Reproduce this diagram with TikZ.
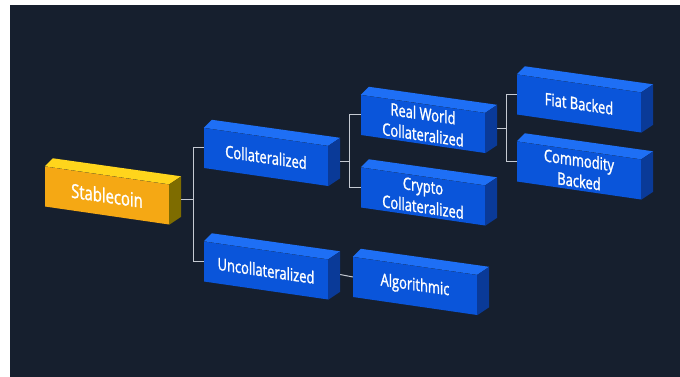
\documentclass[tikz,border=0pt]{standalone}
\usepackage{fontspec}
\setmainfont{Open Sans}
\newfontfamily\boxfont{Open Sans}[FakeStretch=0.76, FakeBold=1.3]
\usetikzlibrary{calc}

\definecolor{bgnavy}{HTML}{161F2E}
\definecolor{bluefront}{HTML}{0A55DA}
\definecolor{bluetop}{HTML}{1E6FF5}
\definecolor{blueside}{HTML}{0A3A98}
\definecolor{goldfront}{HTML}{F5A814}
\definecolor{goldtop}{HTML}{FFD51C}
\definecolor{goldside}{HTML}{7E6C00}
\definecolor{linegray}{HTML}{C5CAD3}

\begin{document}
\begin{tikzpicture}[x=1pt, y=-1pt,
  box/.style={rectangle, minimum width=124pt, minimum height=40pt, inner sep=0pt,
    fill=bluefront, text=white, align=center,
    font=\boxfont\fontsize{17}{21}\selectfont, yslant=-0.145, transform shape},
  conn/.style={draw=linegray, line width=1pt}]
  \useasboundingbox (0,0) rectangle (680,377);
  \fill[bgnavy] (10,5) rectangle (680,377);

  % front faces
  \node[box, fill=goldfront, font=\boxfont\fontsize{19.5}{22}\selectfont] (stable) at (107,195.5) {Stablecoin};
  \node[box] (coll) at (266,157) {Collateralized};
  \node[box] (uncoll) at (266,270.5) {Uncollateralized};
  \node[box] (realw) at (423,124) {Real World\\Collateralized};
  \node[box] (crypto) at (423,196.5) {Crypto\\Collateralized};
  \node[box] (algo) at (415,286) {Algorithmic};
  \node[box] (fiat) at (579,103.5) {Fiat Backed};
  \node[box] (commod) at (579,170.5) {Commodity\\Backed};

  % top and side faces
  \fill[goldtop] (stable.north west) -- ++(8,-8) -- ($(stable.north east)+(12,-8)$) -- (stable.north east) -- cycle;
  \fill[goldside] (stable.north east) -- ++(12,-8) -- ($(stable.south east)+(12,-8)$) -- (stable.south east) -- cycle;
  \foreach \n in {coll,uncoll,realw,crypto,algo,fiat,commod}{
    \fill[bluetop] (\n.north west) -- ++(8,-8) -- ($(\n.north east)+(12,-8)$) -- (\n.north east) -- cycle;
    \fill[blueside] (\n.north east) -- ++(12,-8) -- ($(\n.south east)+(12,-8)$) -- (\n.south east) -- cycle;
  }

  % connectors
  \draw[conn] ($(stable.east)+(12,-5)$) -- ++(12,0) coordinate (j1);
  \draw[conn] (j1) |- (coll.west);
  \draw[conn] (j1) |- (uncoll.west);
  \draw[conn] ($(coll.east)+(12,-5)$) -- ++(9,0) coordinate (j2);
  \draw[conn] (j2) |- (realw.west);
  \draw[conn] (j2) |- (crypto.west);
  \draw[conn] ($(realw.east)+(12,-5)$) -- ++(9,0) coordinate (j3);
  \draw[conn] (j3) |- (fiat.west);
  \draw[conn] (j3) |- (commod.west);
  \draw[conn] ($(uncoll.east)+(12,-5)$) -- (algo.west);
\end{tikzpicture}
\end{document}
